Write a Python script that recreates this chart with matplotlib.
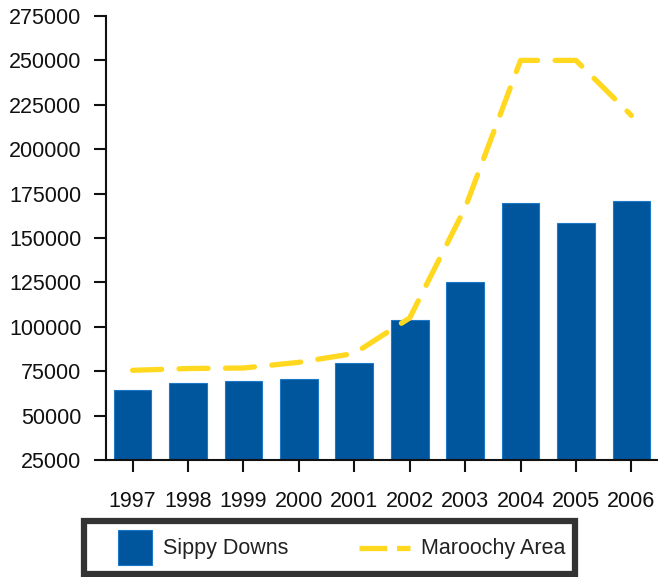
import matplotlib
matplotlib.use("Agg")
import matplotlib.pyplot as plt
import numpy as np
from matplotlib.legend_handler import HandlerBase
from matplotlib.patches import Rectangle
from matplotlib.lines import Line2D

years = ["1997", "1998", "1999", "2000", "2001", "2002", "2003", "2004", "2005", "2006"]
sippy_downs = [64500, 68500, 69500, 70800, 79500, 104000, 125000, 169500, 158500, 171000]
maroochy_area = [75500, 76500, 76800, 80000, 85000, 105000, 167000, 250000, 250000, 219000]
yticks = [25000, 50000, 75000, 100000, 125000, 150000, 175000, 200000, 225000, 250000, 275000]

BAR_COLOR = '#00569D'
BAR_EDGE = '#1E78C8'
LINE_COLOR = '#FFD81F'

plt.rcParams['font.family'] = ['Liberation Sans', 'DejaVu Sans']

fig = plt.figure(figsize=(6.58, 5.77), dpi=100)
ax = fig.add_axes([106/658, 1-460/577, 1-106/658, (460-16)/577])

x = np.arange(len(years))
bars = ax.bar(x, sippy_downs, width=0.68, color=BAR_COLOR, edgecolor=BAR_EDGE,
              linewidth=0.8, label='Sippy Downs', zorder=2)
line, = ax.plot(x, maroochy_area, color=LINE_COLOR, linewidth=3.8, dashes=(5.5, 3.3),
                dash_capstyle='round', label='Maroochy Area', zorder=3)

ax.set_xlim(-0.48, 9.48)
ax.set_ylim(25000, 275000)
ax.set_yticks(yticks)
ax.set_yticklabels([str(v) for v in yticks])
ax.set_xticks(x)
ax.set_xticklabels(years)

for s in ['top', 'right']:
    ax.spines[s].set_visible(False)
for s in ['left', 'bottom']:
    ax.spines[s].set_linewidth(1.5)
    ax.spines[s].set_color('#111111')

ax.tick_params(axis='y', direction='out', length=8.6, width=1.5, labelsize=15.5, pad=9, colors='#111111')
ax.tick_params(axis='x', direction='out', length=8.6, width=1.5, labelsize=15.5, pad=13.5, colors='#111111')


class SquareHandler(HandlerBase):
    def create_artists(self, legend, orig_handle, xdescent, ydescent, width, height, fontsize, trans):
        s = height
        r = Rectangle((width - xdescent - s, -ydescent), s, s, facecolor=BAR_COLOR,
                      edgecolor=BAR_EDGE, linewidth=0.8, transform=trans)
        return [r]


class DashHandler(HandlerBase):
    def create_artists(self, legend, orig_handle, xdescent, ydescent, width, height, fontsize, trans):
        L = 36.7
        y = height / 2 - ydescent
        ln = Line2D([width - xdescent - L, width - xdescent], [y, y], color=LINE_COLOR,
                    linewidth=3.8, dashes=(5.26, 1.84), dash_capstyle='butt', transform=trans)
        return [ln]


leg = fig.legend(handles=[bars, line], labels=['Sippy Downs', 'Maroochy Area'],
                 handler_map={bars: SquareHandler(), line: DashHandler()},
                 loc='lower left', bbox_to_anchor=(84/658, 3/577), borderaxespad=0,
                 ncol=2, frameon=True, fancybox=False, fontsize=15.5,
                 handlelength=2.74, handleheight=2.055, handletextpad=0.51,
                 borderpad=0.44, columnspacing=2.88)
frame = leg.get_frame()
frame.set_edgecolor('black')
frame.set_linewidth(4.5)
for t in leg.get_texts():
    t.set_color('#222222')

fig.savefig('out.png', dpi=100)
